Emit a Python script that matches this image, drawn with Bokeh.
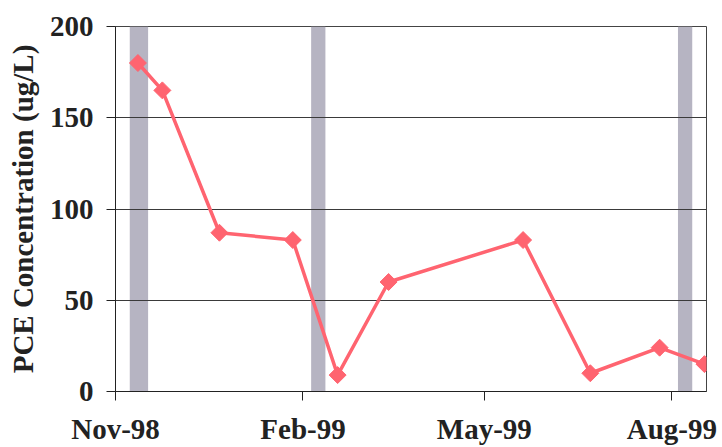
from datetime import datetime
import math
from bokeh.plotting import figure
from bokeh.models import Range1d, FixedTicker, DatetimeTickFormatter, ColumnDataSource
from bokeh.embed import file_html
from bokeh.resources import INLINE

# ---- data ----
sample_dates = ["1998-11-12", "1998-11-24", "1998-12-22", "1999-01-27", "1999-02-18",
                "1999-03-15", "1999-05-20", "1999-06-22", "1999-07-26", "1999-08-17"]
pce_values = [180, 165, 87, 83, 9, 60, 83, 10, 24, 15]

band_starts = ["1998-11-08", "1999-02-05", "1999-08-04"]
band_ends = ["1998-11-17", "1999-02-12", "1999-08-11"]

tick_dates = ["1998-11-01", "1999-02-01", "1999-05-01", "1999-08-01"]
y_ticks = [0, 50, 100, 150, 200]

x_start = "1998-11-01"
x_end = "1999-08-18"


def d(s):
    return datetime.strptime(s, "%Y-%m-%d")


def ms(s):
    return (d(s) - datetime(1970, 1, 1)).total_seconds() * 1000.0


FONT = "Liberation Serif"

p = figure(width=722, height=447, x_axis_type="datetime",
           x_range=Range1d(d(x_start), d(x_end)), y_range=Range1d(0, 200),
           output_backend="svg", toolbar_location=None,
           min_border_left=115, min_border_right=16, min_border_top=26, min_border_bottom=55)

p.background_fill_color = "white"
p.border_fill_color = "white"
p.outline_line_color = "#444444"
p.outline_line_width = 1

bands = ColumnDataSource(dict(left=[d(s) for s in band_starts], right=[d(s) for s in band_ends],
                              bottom=[0] * len(band_starts), top=[200] * len(band_starts)))
p.quad(left="left", right="right", bottom="bottom", top="top", source=bands,
       fill_color="#b6b4c2", line_color=None, level="underlay")

src = ColumnDataSource(dict(x=[d(s) for s in sample_dates], y=pce_values))
p.line("x", "y", source=src, line_color="#ff6470", line_width=3.5)
p.scatter("x", "y", source=src, marker="square", angle=math.pi / 4, size=12,
          fill_color="#ff6470", line_color="#ff6470")

# grid
p.xgrid.grid_line_color = None
p.ygrid.grid_line_color = "#3a3a3a"
p.ygrid.grid_line_width = 1
p.ygrid.ticker = FixedTicker(ticks=y_ticks)

# axes
p.xaxis.ticker = FixedTicker(ticks=[ms(t) for t in tick_dates])
fmt = "%b-%y"
p.xaxis.formatter = DatetimeTickFormatter(years=fmt, months=fmt, days=fmt, hours=fmt,
                                          minutes=fmt, seconds=fmt, milliseconds=fmt,
                                          microseconds=fmt, minsec=fmt, hourmin=fmt)
p.yaxis.ticker = FixedTicker(ticks=y_ticks)

for ax in (p.xaxis[0], p.yaxis[0]):
    ax.axis_line_color = "#222222"
    ax.axis_line_width = 1
    ax.major_tick_line_color = "#222222"
    ax.major_tick_out = 9
    ax.major_tick_in = 0
    ax.minor_tick_line_color = None
    ax.major_label_text_font = FONT
    ax.major_label_text_font_style = "bold"
    ax.major_label_text_font_size = "29px"
    ax.major_label_text_color = "#222222"

p.xaxis.major_label_standoff = 12
p.yaxis.major_label_standoff = 13
p.yaxis.axis_label = "PCE Concentration (ug/L)"
p.yaxis.axis_label_text_font = FONT
p.yaxis.axis_label_text_font_style = "bold"
p.yaxis.axis_label_text_font_size = "29px"
p.yaxis.axis_label_text_color = "#222222"
p.yaxis.axis_label_standoff = 8

open("out.html", "w").write(file_html(p, INLINE))
